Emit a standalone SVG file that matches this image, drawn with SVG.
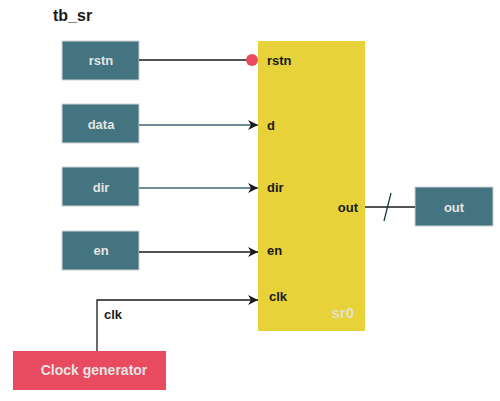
<svg xmlns="http://www.w3.org/2000/svg" width="500" height="401" viewBox="0 0 500 401">
<style>
text{font-family:"Liberation Sans",Arial,sans-serif;font-weight:bold}
.box{fill:#44747f;stroke:#c9d3d6;stroke-width:1}
.lbl{fill:#e4e4e4;font-size:13px;text-anchor:middle}
.port{fill:#1a1a1a;font-size:13px}
.w{fill:none;stroke:#1a1a1a;stroke-width:1.3}
.g{fill:none;stroke:#6f8b94;stroke-width:2}
</style>
<defs>
<marker id="ah" viewBox="0 0 10 10" refX="10" refY="5" markerWidth="10" markerHeight="10" markerUnits="userSpaceOnUse" orient="auto">
<path d="M0,0 L10,5 L0,10 L3,5 Z" fill="#1a1a1a"/>
</marker>
</defs>
<rect width="500" height="401" fill="#ffffff"/>
<text x="53" y="21" style="font-size:16px;fill:#1a1a1a">tb_sr</text>
<g id="sr0">
<rect x="258" y="41" width="107" height="290" fill="#e8d23a"/>
<text class="port" x="267" y="65">rstn</text>
<text class="port" x="267" y="130">d</text>
<text class="port" x="267" y="192">dir</text>
<text class="port" x="267" y="255">en</text>
<text class="port" x="269" y="301">clk</text>
<text class="port" x="358" y="212" text-anchor="end">out</text>
<text x="354" y="318" text-anchor="end" style="font-size:15px;fill:#e4e0c8">sr0</text>
</g>
<g id="rstn"><rect class="box" x="62" y="41" width="77" height="39"/><text class="lbl" x="101" y="65">rstn</text></g>
<g id="data"><rect class="box" x="62" y="104" width="77" height="39"/><text class="lbl" x="101" y="129">data</text></g>
<g id="dir"><rect class="box" x="62" y="167" width="77" height="39"/><text class="lbl" x="101" y="192">dir</text></g>
<g id="en"><rect class="box" x="62" y="231" width="77" height="39"/><text class="lbl" x="101" y="255">en</text></g>
<g id="out"><rect class="box" x="415" y="187" width="78" height="39"/><text class="lbl" x="454" y="212">out</text></g>
<g id="clockgen"><rect x="13" y="351" width="153" height="39" fill="#e84a5f"/><text class="lbl" x="94" y="375" style="font-size:14px">Clock generator</text></g>
<g id="connectors">
<line class="w" x1="139" y1="60" x2="247" y2="60"/>
<circle cx="252" cy="60" r="6" fill="#e84a5f"/>
<line class="g" x1="139" y1="125" x2="258" y2="125" marker-end="url(#ah)"/>
<line class="g" x1="139" y1="188" x2="258" y2="188" marker-end="url(#ah)"/>
<line class="w" x1="139" y1="252" x2="258" y2="252" marker-end="url(#ah)"/>
<polyline class="w" points="97,351 97,300 258,300" marker-end="url(#ah)"/>
<text class="port" x="104" y="319">clk</text>
<line class="w" x1="365" y1="207" x2="415" y2="207"/>
<line x1="384" y1="221" x2="391" y2="193" stroke="#1a3a44" stroke-width="1.3"/>
</g>
</svg>
